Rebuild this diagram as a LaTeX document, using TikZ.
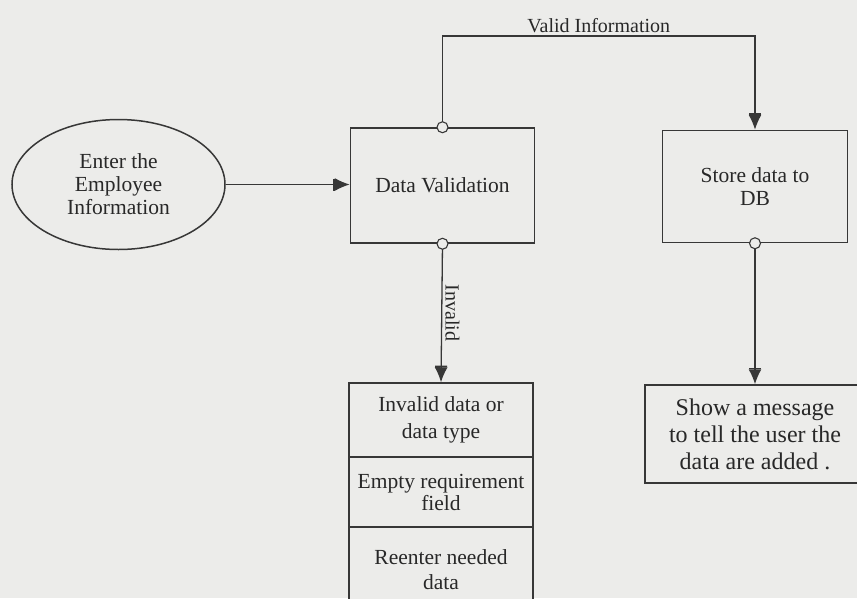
\documentclass[tikz,border=0pt]{standalone}
\usepackage{fontspec}
\setmainfont{Liberation Serif}
\usetikzlibrary{shapes.geometric,arrows.meta}
\definecolor{paper}{RGB}{236,236,234}
\definecolor{ink}{RGB}{55,55,55}
\definecolor{txt}{RGB}{40,40,40}
\begin{document}
\begin{tikzpicture}[x=1pt,y=-1pt,
  every node/.style={text=txt,font=\fontsize{21.5}{23}\selectfont},
  box/.style={draw=ink,line width=1.5pt,fill=paper,rectangle,align=center,inner sep=2pt},
  bubble/.style={draw=ink,line width=1.5pt,ellipse,align=center,inner sep=0pt},
  flow/.style={draw=ink,line width=1.3pt,-{Bar[width=12pt,line width=1.6pt,sep=0pt]Latex[length=15pt,width=13pt]}},
  port/.style={draw=ink,line width=1.1pt,fill=paper,circle,minimum size=11pt,inner sep=0pt},
  lbl/.style={font=\fontsize{20}{22}\selectfont,inner sep=3pt}]
  % page
  \fill[paper] (0,0) rectangle (857,598);
  \useasboundingbox (0,0) rectangle (857,598);
  \clip (0,0) rectangle (857,598);

  % external entity
  \node[bubble,minimum width=213pt,minimum height=130pt] (emp) at (118.5,184.5)
    {Enter the\\Employee\\Information};

  % processes
  \node[box,minimum width=184pt,minimum height=115pt] (dv) at (442.5,185.5) {Data Validation};
  \node[box,minimum width=185pt,minimum height=112pt] (db) at (755,186.5) {Store data to\\DB};

  % invalid-branch stack
  \node[box,minimum width=184pt,minimum height=74pt,font=\fontsize{21.5}{27}\selectfont] (inv1) at (441,420)
    {Invalid data or\\data type};
  \node[box,minimum width=184pt,minimum height=70pt,font=\fontsize{21.5}{22}\selectfont] (inv2) at (441,492)
    {Empty requirement\\field};
  \node[box,minimum width=184pt,minimum height=86pt,font=\fontsize{21.5}{25}\selectfont] (inv3) at (441,570)
    {Reenter needed\\data};

  % confirmation message
  \node[box,minimum width=220pt,minimum height=98pt,font=\fontsize{24}{27}\selectfont] (msg) at (755,434)
    {Show a message\\to tell the user the\\data are added .};

  % connectors
  \coordinate (topline) at (0,36);
  \draw[flow] (emp.east) -- (emp.east -| dv.west);
  \draw[flow] (dv.north) -- (dv.north |- topline) -| (db.north)
    node[lbl,pos=0.25,above] {Valid Information};
  \draw[flow] (dv.south) -- node[lbl,midway,rotate=-90,anchor=south] {Invalid} (inv1.north);
  \draw[flow] (db.south) -- (msg.north);

  % connection ports
  \node[port] at (dv.north) {};
  \node[port] at (dv.south) {};
  \node[port] at (db.south) {};
\end{tikzpicture}
\end{document}
